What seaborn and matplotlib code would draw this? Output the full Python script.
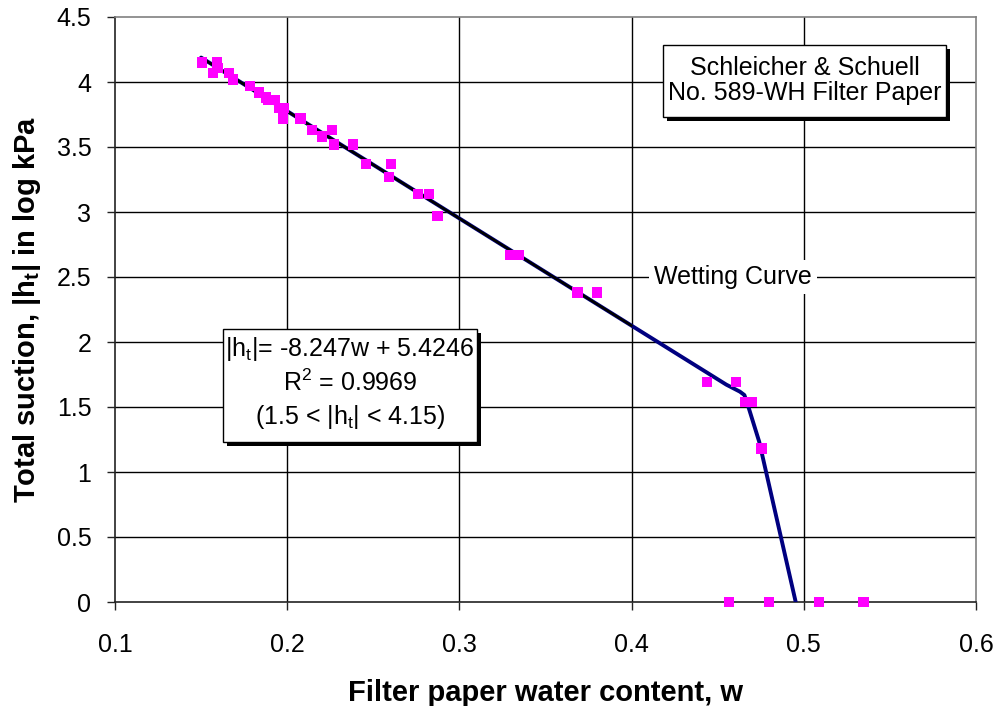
import matplotlib
matplotlib.use("Agg")
import matplotlib.pyplot as plt
import matplotlib.patheffects as pe
from matplotlib.patches import Rectangle
import seaborn as sns
import pandas as pd

# measured points
w_data = [0.1505, 0.1591, 0.1596, 0.1571, 0.1662, 0.1687, 0.1784, 0.1838, 0.1877,
          0.1929, 0.1887, 0.1952, 0.1981, 0.1974, 0.2078, 0.2146, 0.2262, 0.2204,
          0.2272, 0.2384, 0.2458, 0.2603, 0.2591, 0.2758, 0.2823, 0.2872, 0.3294,
          0.3348, 0.3685, 0.3801, 0.4436, 0.4608, 0.4659, 0.4697, 0.4755, 0.4567,
          0.4798, 0.5090, 0.5346]
h_data = [4.15, 4.15, 4.11, 4.07, 4.07, 4.02, 3.97, 3.92, 3.88,
          3.86, 3.86, 3.80, 3.80, 3.72, 3.72, 3.63, 3.63, 3.58,
          3.52, 3.52, 3.37, 3.37, 3.27, 3.14, 3.14, 2.97, 2.67,
          2.67, 2.38, 2.38, 1.69, 1.69, 1.54, 1.54, 1.18, 0.0,
          0.0, 0.0, 0.0]

# wetting curve (smoothed)
curve_w = [0.150, 0.455, 0.4629, 0.4655, 0.4678, 0.4741, 0.4953]
curve_h = [4.188, 1.672, 1.618, 1.592, 1.502, 1.233, 0.0]

# linear fit |ht| = -8.247 w + 5.4246
fit_w = [0.150, 0.400]
fit_h = [-8.247 * 0.150 + 5.4246, -8.247 * 0.400 + 5.4246]

x_ticks = [0.1, 0.2, 0.3, 0.4, 0.5, 0.6]
y_ticks = [0, 0.5, 1, 1.5, 2, 2.5, 3, 3.5, 4, 4.5]
x_ticklabels = ["0.1", "0.2", "0.3", "0.4", "0.5", "0.6"]
y_ticklabels = ["0", "0.5", "1", "1.5", "2", "2.5", "3", "3.5", "4", "4.5"]

sns.set_theme(style="white")
plt.rcParams["font.family"] = ["Liberation Sans", "DejaVu Sans"]
plt.rcParams["mathtext.fontset"] = "custom"
plt.rcParams["mathtext.rm"] = "Liberation Sans"
plt.rcParams["mathtext.it"] = "Liberation Sans"
plt.rcParams["mathtext.bf"] = "Liberation Sans:bold"
for k in ["text.color", "axes.labelcolor", "xtick.color", "ytick.color"]:
    plt.rcParams[k] = "black"

fig = plt.figure(figsize=(9.99, 7.06), dpi=100)
ax = fig.add_axes([115 / 999, 104 / 706, 861 / 999, 585 / 706])

# grid
for xv in x_ticks[1:-1]:
    ax.axvline(xv, color="black", lw=1.0, zorder=0)
for yv in y_ticks[1:-1]:
    ax.axhline(yv, color="black", lw=1.0, zorder=0)

df_pts = pd.DataFrame({"w": w_data, "h": h_data})
df_curve = pd.DataFrame({"w": curve_w, "h": curve_h})
df_fit = pd.DataFrame({"w": fit_w, "h": fit_h})

sns.lineplot(data=df_curve, x="w", y="h", sort=False, color="#000080", lw=2.8, ax=ax, zorder=3)
sns.lineplot(data=df_fit, x="w", y="h", sort=False, color="black", lw=1.8, ax=ax, zorder=4)
sns.scatterplot(data=df_pts, x="w", y="h", marker="s", s=55, color="#FF00FF",
                edgecolor="none", linewidth=0, ax=ax, zorder=5, clip_on=False)

ax.set_xlim(0.1, 0.6)
ax.set_ylim(0, 4.5)
ax.set_xticks(x_ticks)
ax.set_xticklabels(x_ticklabels)
ax.set_yticks(y_ticks)
ax.set_yticklabels(y_ticklabels)
ax.tick_params(axis="both", direction="out", length=6, width=1.0, color="#222222",
               labelsize=18, labelcolor="black", bottom=True, left=True)
ax.tick_params(axis="x", pad=16)
ax.tick_params(axis="y", pad=11)

for side in ["left", "bottom"]:
    ax.spines[side].set_color("#222222")
    ax.spines[side].set_linewidth(1.2)
for side in ["top", "right"]:
    ax.spines[side].set_color("#808080")
    ax.spines[side].set_linewidth(1.2)
    ax.spines[side].set_visible(True)

ax.set_xlabel("Filter paper water content, w", fontsize=21, fontweight="bold", labelpad=16)
ax.set_ylabel(r"Total suction, |h$_\mathbf{t}$| in log kPa", fontsize=21, fontweight="bold", labelpad=10)

shadow = [pe.withSimplePatchShadow(offset=(3, -3), shadow_rgbFace="black", alpha=1.0)]

# annotation boxes (axes fraction)
box1 = Rectangle((0.6365, 0.8291), 0.3287, 0.1231, transform=ax.transAxes,
                 fc="white", ec="black", lw=1.0, zorder=9, clip_on=False)
box1.set_path_effects(shadow)
ax.add_patch(box1)
ax.text(0.6365 + 0.3287 / 2, 0.8291 + 0.1231 / 2, "Schleicher & Schuell\nNo. 589-WH Filter Paper",
        transform=ax.transAxes, fontsize=18, ha="center", va="center", linespacing=1.05, zorder=10)

box2 = Rectangle((0.1254, 0.2735), 0.295, 0.1932, transform=ax.transAxes,
                 fc="white", ec="black", lw=1.0, zorder=9, clip_on=False)
box2.set_path_effects(shadow)
ax.add_patch(box2)
ax.text(0.1254 + 0.295 / 2, 0.2735 + 0.1932 / 2 + 0.004,
        "|h$_\\mathrm{t}$|= -8.247w + 5.4246\nR$^2$ = 0.9969\n(1.5 < |h$_\\mathrm{t}$| < 4.15)",
        transform=ax.transAxes, fontsize=18, ha="center", va="center", linespacing=1.32, zorder=10)

ax.text(0.4589, 2.5, "Wetting Curve", fontsize=18, ha="center", va="center", zorder=10,
        bbox=dict(boxstyle="square,pad=0.2", fc="white", ec="none"))

fig.savefig("out.png", dpi=100)
